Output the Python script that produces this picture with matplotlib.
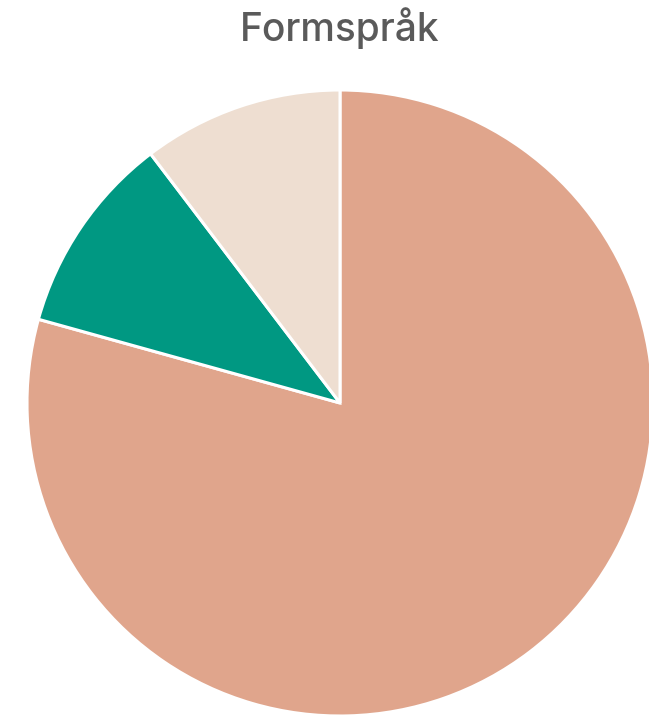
import matplotlib
matplotlib.use("Agg")
import matplotlib.pyplot as plt

labels = ["Stor", "Grønn", "Lys"]
values = [23, 3, 3]
colors = ["#E0A58C", "#009882", "#EEDED1"]

fig = plt.figure(figsize=(6.49, 7.17), dpi=100)
r_px = 313
cx, cy = 340, 403
ax = fig.add_axes([(cx - r_px) / 649, 1 - (cy + r_px) / 717,
                   2 * r_px / 649, 2 * r_px / 717])
ax.pie(values, colors=colors, startangle=90, counterclock=False,
       wedgeprops={"edgecolor": "white", "linewidth": 2.2})
ax.set_xlim(-1, 1)
ax.set_ylim(-1, 1)
ax.axis("off")

fig.text(340 / 649, 1 - 28 / 717, "Formspråk", ha="center", va="center",
         fontsize=28, fontweight="medium", color="#5a5a5a",
         family=["Inter", "DejaVu Sans"])

fig.savefig("out.png", dpi=100)
